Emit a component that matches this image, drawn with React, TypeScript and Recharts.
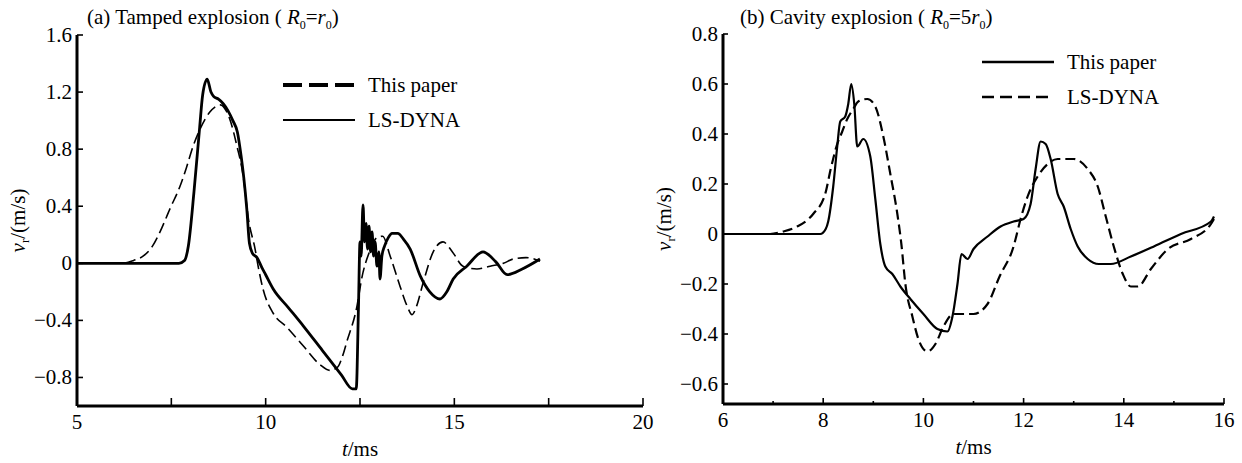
import React from "react";
import { LineChart, Line, XAxis, YAxis, Legend } from "recharts";

const FONT = '"Liberation Serif", "Times New Roman", serif';
const FS = 21;

// (a) tamped explosion: [t (ms), v_r (m/s)]
const paperA = [
  [5, 0], [6.2, 0], [6.5, 0.02], [6.75, 0.05], [7.0, 0.12], [7.2, 0.22], [7.46, 0.38], [7.73, 0.54],
  [7.9, 0.67], [8.05, 0.8], [8.26, 0.94], [8.52, 1.06], [8.8, 1.11], [8.95, 1.07], [9.05, 1.01],
  [9.24, 0.82], [9.4, 0.62], [9.55, 0.3], [9.72, 0.1], [9.8, -0.02], [9.93, -0.18], [10.2, -0.35],
  [10.57, -0.45], [11.0, -0.58], [11.44, -0.71], [11.7, -0.75], [11.9, -0.73], [12.05, -0.64],
  [12.15, -0.55], [12.42, -0.3], [12.55, -0.1], [12.75, 0.08], [12.95, 0.18], [13.1, 0.19],
  [13.3, 0.05], [13.56, -0.16], [13.75, -0.3], [13.88, -0.36], [14.0, -0.3], [14.17, -0.14],
  [14.44, 0.08], [14.7, 0.15], [14.95, 0.08], [15.23, -0.02], [15.6, -0.04], [15.95, -0.02],
  [16.3, 0.0], [16.56, 0.03], [16.9, 0.04], [17.27, 0.015],
];
const dynaA = [
  [5, 0], [7.7, 0], [7.85, 0.02], [7.95, 0.12], [8.1, 0.5], [8.25, 0.95], [8.33, 1.18], [8.45, 1.29],
  [8.55, 1.2], [8.62, 1.17], [8.75, 1.15], [8.87, 1.12], [9.0, 1.07], [9.13, 1.0], [9.25, 0.92],
  [9.35, 0.75], [9.42, 0.6], [9.5, 0.38], [9.57, 0.14], [9.65, 0.07], [9.77, 0.04], [9.9, -0.03],
  [10.0, -0.08], [10.2, -0.18], [10.6, -0.31], [11.0, -0.44], [11.5, -0.61], [12.0, -0.78],
  [12.3, -0.88], [12.4, -0.88], [12.46, -0.3], [12.5, 0.15], [12.53, 0.05], [12.58, 0.41],
  [12.62, 0.15], [12.66, 0.28], [12.7, 0.1], [12.74, 0.26], [12.78, 0.08], [12.82, 0.22],
  [12.86, 0.05], [12.9, 0.15], [12.95, -0.02], [13.0, 0.08], [13.03, -0.11], [13.08, 0.05],
  [13.15, 0.12], [13.25, 0.18], [13.35, 0.21], [13.5, 0.21], [13.65, 0.17], [13.83, 0.1],
  [14.1, -0.09], [14.35, -0.2], [14.62, -0.25], [14.8, -0.2], [14.97, -0.11], [15.33, -0.02],
  [15.76, 0.08], [16.1, 0.01], [16.4, -0.08], [16.8, -0.04], [17.27, 0.03],
];
const xTicksA = [5, 7.5, 10, 12.5, 15, 17.5, 20];
const xLabelsA = [5, 10, 15, 20];
const yTicksA = [-0.8, -0.4, 0, 0.4, 0.8, 1.2, 1.6];

// (b) cavity explosion
const paperB = [
  [6, 0], [7.94, 0], [8.05, 0.02], [8.1, 0.05], [8.2, 0.19], [8.28, 0.35], [8.34, 0.45], [8.44, 0.47],
  [8.5, 0.52], [8.56, 0.6], [8.62, 0.52], [8.68, 0.35], [8.8, 0.38], [8.94, 0.31], [9.04, 0.14],
  [9.14, -0.04], [9.24, -0.13], [9.38, -0.16], [9.54, -0.21], [9.74, -0.26], [10.0, -0.32],
  [10.28, -0.38], [10.48, -0.39], [10.58, -0.33], [10.68, -0.2], [10.76, -0.08], [10.88, -0.1],
  [11.0, -0.06], [11.28, -0.01], [11.54, 0.03], [11.8, 0.05], [12.0, 0.06], [12.14, 0.12],
  [12.24, 0.26], [12.34, 0.37], [12.44, 0.36], [12.54, 0.3], [12.68, 0.16], [12.8, 0.11],
  [12.94, 0.02], [13.08, -0.05], [13.28, -0.1], [13.5, -0.12], [13.74, -0.12], [14.14, -0.09],
  [14.6, -0.05], [15.14, 0.0], [15.74, 0.05], [15.8, 0.07],
];
const dynaB = [
  [6, 0], [6.94, 0], [7.2, 0.01], [7.48, 0.03], [7.8, 0.08], [8.04, 0.16], [8.15, 0.26], [8.28, 0.36],
  [8.38, 0.41], [8.48, 0.46], [8.6, 0.5], [8.7, 0.53], [8.88, 0.54], [9.04, 0.51], [9.2, 0.39],
  [9.34, 0.24], [9.48, 0.08], [9.56, -0.04], [9.64, -0.2], [9.78, -0.33], [9.9, -0.42], [10.08, -0.47],
  [10.24, -0.44], [10.4, -0.37], [10.6, -0.32], [11.0, -0.32], [11.28, -0.28], [11.52, -0.17],
  [11.8, -0.05], [11.94, 0.06], [12.08, 0.15], [12.28, 0.23], [12.48, 0.28], [12.68, 0.3], [13.0, 0.3],
  [13.28, 0.26], [13.48, 0.19], [13.64, 0.07], [13.8, -0.05], [13.98, -0.16], [14.14, -0.21],
  [14.28, -0.21], [14.54, -0.14], [14.88, -0.06], [15.34, -0.02], [15.74, 0.04], [15.8, 0.06],
];
const xTicksB = [6, 7, 8, 9, 10, 11, 12, 13, 14, 15, 16];
const xLabelsB = [6, 8, 10, 12, 14, 16];
const yTicksB = [-0.6, -0.4, -0.2, 0, 0.2, 0.4, 0.6, 0.8];

const pts = (a: number[][]) => a.map(([t, v]) => ({ t, v }));

const fmtY = (v: number) =>
  Math.abs(v) < 1e-9 ? "0" : (v < 0 ? "\u2212" : "") + Math.abs(v).toFixed(1);

const XTick = ({ x, y, payload, labels, len, minorLen }: any) => {
  const major = labels.includes(payload.value);
  return (
    <g>
      <line x1={x} x2={x} y1={y - 4} y2={y - 4 - (major ? len : minorLen)} stroke="#000" strokeWidth={1.6} />
      {major && (
        <text x={x} y={y + 19} textAnchor="middle" fontSize={FS} fontFamily={FONT} fill="#000">
          {payload.value}
        </text>
      )}
    </g>
  );
};

const YTick = ({ x, y, payload, len }: any) => (
  <g>
    <line x1={x + 5} x2={x + 5 + len} y1={y} y2={y} stroke="#000" strokeWidth={1.6} />
    <text x={x} y={y + 7} textAnchor="end" fontSize={FS} fontFamily={FONT} fill="#000">
      {fmtY(payload.value)}
    </text>
  </g>
);

const YLabel = ({ viewBox }: any) => {
  const cx = viewBox.x + viewBox.width - 52;
  const cy = viewBox.y + viewBox.height / 2;
  return (
    <text x={cx} y={cy} transform={`rotate(-90, ${cx}, ${cy})`} textAnchor="middle" fontSize={FS} fontFamily={FONT} fill="#000">
      <tspan fontStyle="italic">v</tspan>
      <tspan fontSize={13} dy={4}>r</tspan>
      <tspan dy={-4}>/(m/s)</tspan>
    </text>
  );
};

const XLabel = ({ viewBox }: any) => (
  <text x={viewBox.x + viewBox.width / 2} y={viewBox.y + 50} textAnchor="middle" fontSize={FS} fontFamily={FONT} fill="#000">
    <tspan fontStyle="italic">t</tspan>/ms
  </text>
);

const LegendBox = ({ items }: any) => (
  <svg width={200} height={75} style={{ overflow: "visible" }}>
    {items.map((it: any, i: number) => (
      <g key={i}>
        <line x1={0} x2={72} y1={15 + i * 35} y2={15 + i * 35} stroke="#000" strokeWidth={it.w} strokeDasharray={it.dash} />
        <text x={85} y={22 + i * 35} fontSize={FS} fontFamily={FONT} fill="#000">{it.name}</text>
      </g>
    ))}
  </svg>
);

const Title = ({ left, tag, ratio }: any) => (
  <div style={{ position: "absolute", left, top: 5, fontFamily: FONT, fontSize: FS, whiteSpace: "nowrap", lineHeight: "24px" }}>
    {tag} ( <i>R</i><sub style={{ fontSize: 12 }}>0</sub>={ratio}<i>r</i><sub style={{ fontSize: 12 }}>0</sub>)
  </div>
);

export default function App() {
  return (
    <div style={{ position: "absolute", left: 0, top: 0, width: 1242, height: 463, background: "#fff", overflow: "hidden" }}>
      <Title left={87} tag="(a) Tamped explosion" ratio="" />
      <Title left={740} tag="(b) Cavity explosion" ratio="5" />

      <div style={{ position: "absolute", left: 0, top: 0 }}>
        <LineChart width={660} height={463} margin={{ top: 35, right: 17, bottom: 27, left: 17 }}>
          <XAxis
            dataKey="t"
            type="number"
            domain={[5, 20]}
            ticks={xTicksA}
            interval={0}
            height={30}
            tickSize={0}
            tickMargin={4}
            axisLine={{ stroke: "#000", strokeWidth: 3 }}
            tickLine={false}
            tick={<XTick labels={xLabelsA} len={8} minorLen={8} />}
            label={{ content: (p: any) => <XLabel viewBox={p.viewBox} /> }}
            allowDataOverflow
          />
          <YAxis
            type="number"
            domain={[-1.0, 1.6]}
            ticks={yTicksA}
            interval={0}
            width={60}
            tickSize={0}
            tickMargin={5}
            axisLine={{ stroke: "#000", strokeWidth: 3 }}
            tickLine={false}
            tick={<YTick len={6} />}
            label={{ content: (p: any) => <YLabel viewBox={p.viewBox} /> }}
            allowDataOverflow
          />
          <Legend
            layout="vertical"
            align="center"
            verticalAlign="middle"
            wrapperStyle={{ left: 283, top: 70, width: 200 }}
            content={() => (
              <LegendBox items={[{ name: "This paper", w: 4, dash: "19 7" }, { name: "LS-DYNA", w: 2 }]} />
            )}
          />
          <Line data={pts(paperA)} dataKey="v" name="This paper" type="monotone" stroke="#000" strokeWidth={1.6} strokeDasharray="11 5" dot={false} isAnimationActive={false} />
          <Line data={pts(dynaA)} dataKey="v" name="LS-DYNA" type="monotone" stroke="#000" strokeWidth={2.8} dot={false} isAnimationActive={false} />
        </LineChart>
      </div>

      <div style={{ position: "absolute", left: 640, top: 0 }}>
        <LineChart width={602} height={463} margin={{ top: 34, right: 18, bottom: 29, left: 23 }}>
          <XAxis
            dataKey="t"
            type="number"
            domain={[6, 16]}
            ticks={xTicksB}
            interval={0}
            height={30}
            tickSize={0}
            tickMargin={4}
            axisLine={{ stroke: "#000", strokeWidth: 3 }}
            tickLine={false}
            tick={<XTick labels={xLabelsB} len={6} minorLen={3} />}
            label={{ content: (p: any) => <XLabel viewBox={p.viewBox} /> }}
            allowDataOverflow
          />
          <YAxis
            type="number"
            domain={[-0.68, 0.8]}
            ticks={yTicksB}
            interval={0}
            width={60}
            tickSize={0}
            tickMargin={5}
            axisLine={{ stroke: "#000", strokeWidth: 3 }}
            tickLine={false}
            tick={<YTick len={5} />}
            label={{ content: (p: any) => <YLabel viewBox={p.viewBox} /> }}
            allowDataOverflow
          />
          <Legend
            layout="vertical"
            align="center"
            verticalAlign="middle"
            wrapperStyle={{ left: 342, top: 47, width: 200 }}
            content={() => (
              <LegendBox items={[{ name: "This paper", w: 2.5 }, { name: "LS-DYNA", w: 2.5, dash: "12 6" }]} />
            )}
          />
          <Line data={pts(paperB)} dataKey="v" name="This paper" type="monotone" stroke="#000" strokeWidth={2.2} dot={false} isAnimationActive={false} />
          <Line data={pts(dynaB)} dataKey="v" name="LS-DYNA" type="monotone" stroke="#000" strokeWidth={2.2} strokeDasharray="10 5" dot={false} isAnimationActive={false} />
        </LineChart>
      </div>
    </div>
  );
}
